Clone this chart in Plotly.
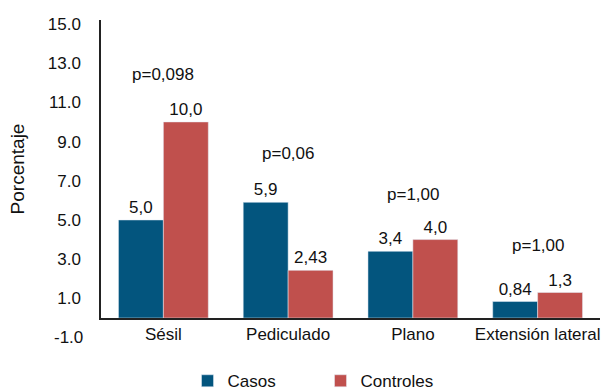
import plotly.graph_objects as go

# Tipos morfológicos y porcentajes por grupo
categorias = ["Sésil", "Pediculado", "Plano", "Extensión lateral"]
casos = [5.0, 5.9, 3.4, 0.84]
controles = [10.0, 2.43, 4.0, 1.3]
etiquetas_casos = ["5,0", "5,9", "3,4", "0,84"]
etiquetas_controles = ["10,0", "2,43", "4,0", "1,3"]
p_valores = ["p=0,098", "p=0,06", "p=1,00", "p=1,00"]
p_altura = [12.4, 8.4, 6.3, 3.7]
ticks_y = [1, 3, 5, 7, 9, 11, 13, 15]
y_min, y_max = 0, 15.2

FUENTE = "Liberation Sans, Arial, sans-serif"
TAM = 17
AZUL = "#03557E"
ROJO = "#C0504D"

fig = go.Figure()
fig.add_trace(go.Bar(
    name="Casos", x=categorias, y=casos, marker_color=AZUL,
    text=etiquetas_casos, textposition="outside", cliponaxis=False,
    textfont=dict(size=TAM, color="#111"),
))
fig.add_trace(go.Bar(
    name="Controles", x=categorias, y=controles, marker_color=ROJO,
    text=etiquetas_controles, textposition="outside", cliponaxis=False,
    textfont=dict(size=TAM, color="#111"),
))

for cat, p, h in zip(categorias, p_valores, p_altura):
    fig.add_annotation(x=cat, y=h, text=p, showarrow=False,
                       font=dict(size=TAM, color="#111"), yanchor="middle")

# Etiqueta -1.0 del eje vertical, por debajo de la línea base
fig.add_annotation(x=0, xref="paper", y=(-1 - y_min) / (y_max - y_min), yref="paper",
                   text="-1.0", showarrow=False, xanchor="right", yanchor="middle",
                   xshift=-16, font=dict(size=TAM, color="#111"))

fig.update_layout(
    width=601, height=391,
    margin=dict(l=101, r=1, t=20, b=73, autoexpand=False),
    paper_bgcolor="white", plot_bgcolor="white",
    font=dict(family=FUENTE, size=TAM, color="#111"),
    barmode="group", bargap=0.28, bargroupgap=0,
    showlegend=True,
    legend=dict(orientation="h", x=0.312, xref="container", xanchor="left",
                y=0.025, yref="container", yanchor="middle",
                font=dict(size=TAM), entrywidth=88, itemwidth=30,
                tracegroupgap=0),
)
fig.update_xaxes(
    showline=True, linecolor="#222", linewidth=1.5,
    showgrid=False, ticks="", tickfont=dict(size=TAM),
)
fig.update_yaxes(
    range=[y_min, y_max], tickvals=ticks_y, tickformat=".1f",
    showline=True, linecolor="#222", linewidth=1.5,
    showgrid=False, zeroline=False, ticks="",
    ticklabelstandoff=15, tickfont=dict(size=TAM),
    title=dict(text="Porcentaje", font=dict(size=19), standoff=18),
)

fig.write_html("out.html")
